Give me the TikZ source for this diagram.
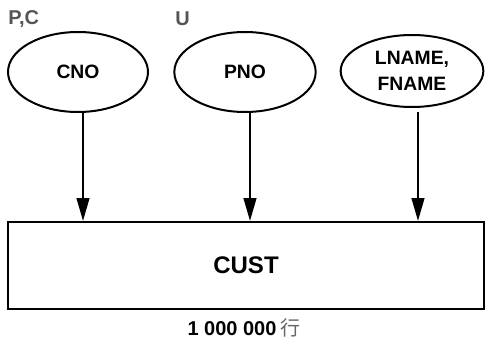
\documentclass[tikz,border=0pt]{standalone}
\usepackage{fontspec}
\setmainfont{Liberation Sans}
\newfontfamily\cjkfont{Noto Sans CJK SC}
\usepackage{xcolor}
\usetikzlibrary{arrows.meta, shapes.geometric}
\definecolor{idxcolor0}{HTML}{000000}
\definecolor{idxcolor1}{HTML}{555555}
\definecolor{idxcolor2}{HTML}{666666}
\tikzset{
  column_ellipse/.style={ellipse, draw=idxcolor0, line width=1.5pt, inner sep=0pt, align=center, font=\fontsize{14.5}{19}\selectfont\bfseries},
  table_box/.style={rectangle, draw=idxcolor0, line width=1.9pt, inner sep=0pt, font=\fontsize{18}{20}\selectfont\bfseries},
  index_label/.style={anchor=west, text=idxcolor1, inner sep=0pt, font=\fontsize{15}{16}\selectfont\bfseries},
  rows_label/.style={inner sep=0pt, font=\fontsize{15}{16}\selectfont\bfseries},
  index_arrow/.style={line width=1.4pt, color=idxcolor0, -{Triangle[length=17pt, width=9.5pt]}}
}

\begin{document}
\begin{tikzpicture}[x=0.75pt, y=-0.75pt]
\useasboundingbox (0,0) rectangle (485,339);
% index labels
\node[index_label] (label_cno) at (8,19) {P,C};
\node[index_label] (label_pno) at (175,19) {U};
% columns
\node[column_ellipse, minimum width=105pt, minimum height=60pt] (col_cno) at (78,72) {CNO};
\node[column_ellipse, minimum width=106pt, minimum height=60pt] (col_pno) at (245,72) {PNO};
\node[column_ellipse, minimum width=107pt, minimum height=54pt] (col_name) at (412,71) {LNAME,\\FNAME};
% table
\node[table_box, minimum width=357pt, minimum height=65pt] (cust_table) at (246,265.5) {CUST};
\coordinate (out_cno) at (83,112);
\coordinate (out_pno) at (250,112);
\coordinate (out_name) at (418,112);
\draw[index_arrow] (out_cno) -- (out_cno |- cust_table.north);
\draw[index_arrow] (out_pno) -- (out_pno |- cust_table.north);
\draw[index_arrow] (out_name) -- (out_name |- cust_table.north);
\node[rows_label] (rows_node) at (244,327.5) {1 000 000\hspace{3pt}{\cjkfont\mdseries\color{idxcolor2}行}};
\end{tikzpicture}
\end{document}
